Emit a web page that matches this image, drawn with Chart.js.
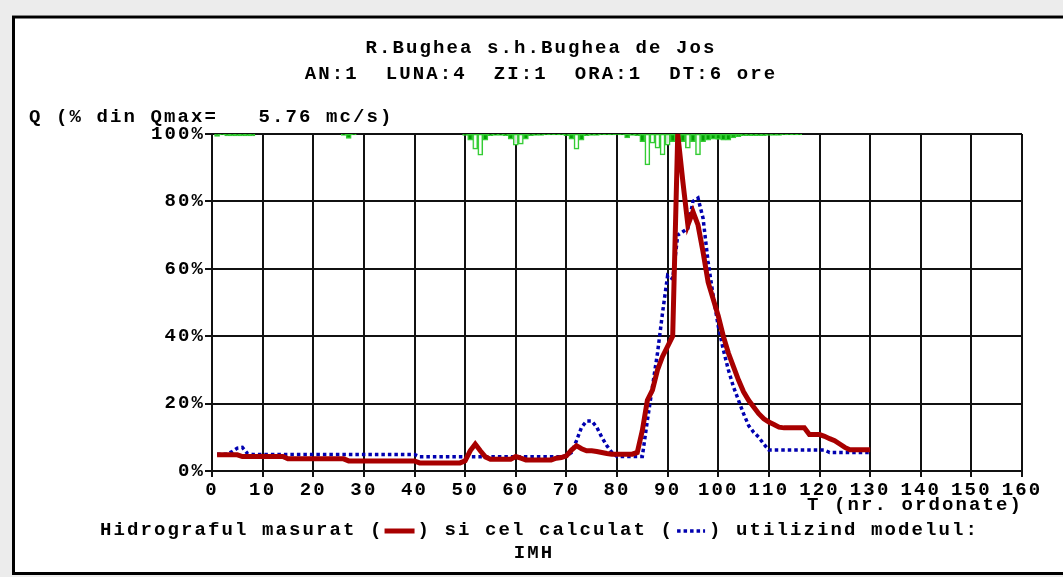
<!DOCTYPE html>
<html>
<head>
<meta charset="utf-8">
<script src="https://cdn.jsdelivr.net/npm/chart.js@4.4.0/dist/chart.umd.min.js"></script>
<style>
    html, body { margin: 0; padding: 0; background: #ececec; }
    #chart { display: block; }
</style>
</head>
<body>
<canvas id="chart" width="1063" height="577"></canvas>
<script>
// hidrograf masurat, T = 1..130 (% din Qmax)
const measured = [
    4.8, 4.8, 4.8, 4.8, 4.8, 4.3, 4.3, 4.3, 4.3, 4.3,
    4.3, 4.3, 4.3, 4.3, 3.6, 3.6, 3.6, 3.6, 3.6, 3.6,
    3.6, 3.6, 3.6, 3.6, 3.6, 3.6, 3.0, 3.0, 3.0, 3.0,
    3.0, 3.0, 3.0, 3.0, 3.0, 3.0, 3.0, 3.0, 3.0, 3.0,
    2.4, 2.4, 2.4, 2.4, 2.4, 2.4, 2.4, 2.4, 2.4, 3.0,
    6.0, 8.0, 6.0, 4.2, 3.5, 3.5, 3.5, 3.5, 3.5, 4.3,
    3.8, 3.3, 3.3, 3.3, 3.3, 3.3, 3.3, 3.8, 4.0, 4.5,
    6.2, 7.5, 6.6, 6.0, 6.0, 5.8, 5.5, 5.2, 5.0, 5.0,
    5.0, 5.0, 5.0, 5.5, 12, 21, 24, 30, 34, 37,
    40, 100, 86, 73, 77, 73, 65, 56, 51, 46,
    40, 35, 31, 27, 23.5, 21, 19, 17, 15.5, 14.5,
    13.8, 13.0, 12.8, 12.8, 12.8, 12.8, 12.8, 10.8, 10.8, 10.8,
    10.3, 9.6, 9.0, 8.0, 7.0, 6.3, 6.3, 6.3, 6.3, 6.3
];

// hidrograf calculat (model IMH), T = 1..130
const calculated = [
    5.0, 5.0, 5.0, 5.8, 6.8, 7.0, 5.2, 4.9, 4.9, 4.9,
    4.9, 4.9, 4.9, 4.9, 4.9, 4.9, 4.9, 4.9, 4.9, 4.9,
    4.9, 4.9, 4.9, 4.9, 4.9, 4.9, 4.9, 4.9, 4.9, 4.9,
    4.9, 4.9, 4.9, 4.9, 4.9, 4.9, 4.9, 4.9, 4.9, 4.9,
    4.2, 4.2, 4.2, 4.2, 4.2, 4.2, 4.2, 4.2, 4.2, 4.2,
    4.2, 4.2, 4.2, 4.2, 4.2, 4.2, 4.2, 4.2, 4.2, 4.2,
    4.2, 4.2, 4.2, 4.2, 4.2, 4.2, 4.2, 4.2, 4.2, 4.5,
    5.5, 9, 13, 14.8, 14.8, 13, 10, 7.5, 5.5, 4.3,
    4.3, 4.3, 4.3, 4.3, 4.3, 15, 25, 35, 47, 58,
    57, 70, 71, 72, 80, 81, 75, 62, 52, 43,
    36, 30, 25, 21, 17, 13.5, 11.5, 10, 8, 6.2,
    6.2, 6.2, 6.2, 6.2, 6.2, 6.2, 6.2, 6.2, 6.2, 6.2,
    6.2, 5.5, 5.5, 5.5, 5.5, 5.5, 5.5, 5.5, 5.5, 5.5
];

// precipitatii (adancime in % sub linia de 100%), T = 1..116
const rain = [
    0.7, 0.3, 0.6, 0.6, 0.6, 0.6, 0.6, 0.6, null, null,
    null, null, null, null, null, null, null, null, null, null,
    null, null, null, null, null, 0.4, 1.3, 0.3, null, null,
    null, null, null, null, null, null, null, null, null, null,
    null, null, null, null, null, null, null, null, null, 0.4,
    1.8, 4.5, 6.3, 1.8, 0.5, 0.4, 0.4, 0.5, 1.5, 3.3,
    3.0, 1.5, 0.5, 0.4, 0.4, 0.3, 0.3, 0.3, 0.3, 0.5,
    1.5, 4.5, 1.8, 0.5, 0.4, 0.4, 0.3, 0.3, 0.3, 0.3,
    0.3, 1.2, 0.4, 0.5, 2.3, 9.2, 2.7, 4.2, 6.2, 3.3,
    2.3, 2.0, 2.3, 4.2, 2.3, 6.2, 2.3, 1.8, 1.5, 1.6,
    1.8, 1.8, 1.2, 0.8, 0.5, 0.5, 0.5, 0.5, 0.5, 0.4,
    0.4, 0.4, 0.3, 0.3, 0.3, 0.3
];

const titleLines = ['R.Bughea s.h.Bughea de Jos', 'AN:1  LUNA:4  ZI:1  ORA:1  DT:6 ore'];
const yTitle = 'Q (% din Qmax=   5.76 mc/s)';
const xTitle = 'T (nr. ordonate)';
const legendParts = ['Hidrograful masurat (', ') si cel calculat (', ') utilizind modelul:'];
const modelName = 'IMH';

const FONT = 'bold 19px "Liberation Mono", monospace';
const SPACING = '2.1px';
const RED = '#a80000';
const BLUE = '#0000b0';

const measuredPts = measured.map((v, i) => ({x: i + 1, y: v}));
const calculatedPts = calculated.map((v, i) => ({x: i + 1, y: v}));
const rainPts = rain.map((d, i) => ({x: i + 1, y: d == null ? null : [100 - d, 100]}));

// ################################################################################################
const framePlugin = {
    id: 'frame',
    beforeDraw(chart) {
        const ctx = chart.ctx;
        ctx.save();
        ctx.fillStyle = '#ececec';
        ctx.fillRect(0, 0, chart.width, chart.height);
        ctx.fillStyle = '#ffffff';
        ctx.fillRect(12, 15, chart.width - 12, chart.height - 19);
        ctx.strokeStyle = '#000';
        ctx.lineWidth = 3;
        ctx.beginPath();
        ctx.moveTo(chart.width, 17);
        ctx.lineTo(13.5, 17);
        ctx.lineTo(13.5, 573.5);
        ctx.lineTo(chart.width, 573.5);
        ctx.stroke();
        ctx.restore();
        // letter spacing for the tick labels drawn next
        ctx.letterSpacing = SPACING;
    },
    afterDraw(chart) {
        const ctx = chart.ctx;
        ctx.save();
        ctx.font = FONT;
        ctx.letterSpacing = SPACING;
        ctx.fillStyle = '#000';
        ctx.textBaseline = 'middle';

        ctx.textAlign = 'center';
        ctx.fillText(titleLines[0], 541, 48);
        ctx.fillText(titleLines[1], 541, 74);

        ctx.textAlign = 'left';
        ctx.fillText(yTitle, 29, 117);

        ctx.textAlign = 'right';
        ctx.fillText(xTitle, 1023, 505);

        // legend line
        ctx.textAlign = 'left';
        let x = 100;
        const y = 530;
        ctx.fillText(legendParts[0], x, y);
        x += ctx.measureText(legendParts[0]).width;
        ctx.strokeStyle = RED;
        ctx.lineWidth = 5;
        ctx.beginPath();
        ctx.moveTo(x + 1, y + 1);
        ctx.lineTo(x + 31, y + 1);
        ctx.stroke();
        x += 34;
        ctx.fillText(legendParts[1], x, y);
        x += ctx.measureText(legendParts[1]).width;
        ctx.strokeStyle = BLUE;
        ctx.lineWidth = 3.5;
        ctx.setLineDash([3.5, 3]);
        ctx.beginPath();
        ctx.moveTo(x + 3, y + 1);
        ctx.lineTo(x + 31, y + 1);
        ctx.stroke();
        ctx.setLineDash([]);
        x += 35;
        ctx.fillText(legendParts[2], x, y);

        ctx.textAlign = 'center';
        ctx.fillText(modelName, 534, 553);
        ctx.restore();
    }
};

const tickFont = {family: 'Liberation Mono', size: 19, weight: 'bold'};

new Chart(document.getElementById('chart'), {
    type: 'line',
    data: {
        datasets: [
            {
                label: 'masurat',
                data: measuredPts,
                borderColor: RED,
                borderWidth: 5,
                pointRadius: 0,
                tension: 0,
                clip: 6
            },
            {
                label: 'calculat',
                data: calculatedPts,
                borderColor: BLUE,
                borderWidth: 3.5,
                borderDash: [3.5, 3],
                pointRadius: 0,
                tension: 0,
                clip: 6
            },
            {
                type: 'bar',
                label: 'precipitatii',
                data: rainPts,
                backgroundColor: rain.map(d => d != null && d >= 2.5 ? 'rgba(255,255,255,0.85)' : '#00a000'),
                borderColor: '#33cc33',
                borderWidth: 1.5,
                borderSkipped: false,
                barPercentage: 1,
                categoryPercentage: 1
            }
        ]
    },
    options: {
        responsive: false,
        animation: false,
        devicePixelRatio: 1,
        layout: {
            padding: {left: 12, right: 41, top: 134, bottom: 0}
        },
        plugins: {
            legend: {display: false},
            title: {display: false},
            tooltip: {enabled: false}
        },
        scales: {
            x: {
                type: 'linear',
                min: 0,
                max: 160,
                offset: false,
                afterFit: s => { s.height = 106; },
                ticks: {
                    stepSize: 10,
                    color: '#000',
                    padding: 2,
                    maxRotation: 0,
                    font: tickFont
                },
                grid: {color: '#111', lineWidth: 2, tickLength: 6, offset: false},
                border: {color: '#111', width: 2}
            },
            y: {
                min: 0,
                max: 100,
                afterFit: s => { s.width = 200; },
                ticks: {
                    stepSize: 20,
                    color: '#000',
                    padding: 0,
                    callback: v => v + '%',
                    font: tickFont
                },
                grid: {color: '#111', lineWidth: 2, tickLength: 7},
                border: {color: '#111', width: 2}
            }
        }
    },
    plugins: [framePlugin]
});
</script>
</body>
</html>
